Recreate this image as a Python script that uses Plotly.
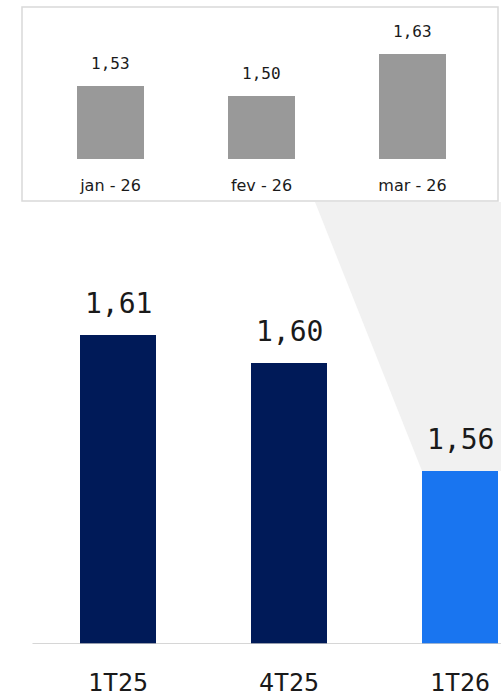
import plotly.graph_objects as go

# Quarterly values (main chart)
quarters = ["1T25", "4T25", "1T26"]
quarter_values = [1.61, 1.60, 1.56]
quarter_labels = ["1,61", "1,60", "1,56"]

# Monthly breakdown of the latest quarter (inset)
months = ["jan - 26", "fev - 26", "mar - 26"]
month_values = [1.53, 1.50, 1.63]
month_labels = ["1,53", "1,50", "1,63"]

W, H = 501, 700
NAVY = "#001a58"
BLUE = "#1975f0"
BAR_GREY = "#999999"
ZOOM_FILL = "#f1f1f1"
BORDER = "#d9d9d9"
AXIS_LINE = "#c8c8c8"
TEXT = "#1a1a1a"
NUM_FONT = "DejaVu Sans Mono"
WORD_FONT = "DejaVu Sans"


def py(px):
    """Pixel row -> paper fraction."""
    return 1 - px / H


# Main axes geometry
main_base, main_scale = 1.4963, 2714.0          # axis floor, px per unit
main_bottom_px, main_top_px = 644, 202
main_y_range = [main_base, main_base + (main_bottom_px - main_top_px) / main_scale]
main_step, main_first = 171.0, 118.0             # px between categories, px of first
main_x_range = [-main_first / main_step, (W - main_first) / main_step]

# Inset axes geometry
ins_base, ins_scale = 1.3066, 325.6
ins_bottom_px, ins_top_px = 159, 7
ins_y_range = [ins_base, ins_base + (ins_bottom_px - ins_top_px) / ins_scale]
ins_step, ins_first = 151.0, 110.5
ins_left_px, ins_right_px = 22, 498
ins_x_range = [-ins_first / ins_step, (W - ins_first) / ins_step]

fig = go.Figure()

fig.add_trace(go.Bar(
    x=quarters, y=quarter_values, width=0.444,
    marker=dict(color=[NAVY, NAVY, BLUE], line=dict(width=0)),
    xaxis="x", yaxis="y", hoverinfo="skip",
))
fig.add_trace(go.Bar(
    x=months, y=month_values, width=0.444,
    marker=dict(color=BAR_GREY, line=dict(width=0)),
    xaxis="x2", yaxis="y2", hoverinfo="skip",
))

annotations = []
for q, v, t in zip(quarters, quarter_values, quarter_labels):
    annotations.append(dict(
        x=q, y=v, xref="x", yref="y", text=t, showarrow=False,
        yanchor="bottom", yshift=13, font=dict(family=NUM_FONT, size=28, color=TEXT),
    ))
for m, v, t in zip(months, month_values, month_labels):
    annotations.append(dict(
        x=m, y=v, xref="x2", yref="y2", text=t, showarrow=False,
        yanchor="bottom", yshift=11, font=dict(family=NUM_FONT, size=16, color=TEXT),
    ))

bar_half = 0.222
shapes = [
    # inset frame
    dict(type="rect", xref="paper", yref="paper",
         x0=ins_left_px / W, x1=ins_right_px / W, y0=py(201), y1=py(ins_top_px),
         line=dict(color=BORDER, width=1.5), fillcolor="white", layer="below"),
    # zoom wedge from the inset down to the latest quarter bar
    dict(type="path", xref="x", yref="y", layer="below",
         path=(f"M {(315 - main_first) / main_step},{main_y_range[1]} "
               f"L {main_x_range[1]},{main_y_range[1]} "
               f"L {main_x_range[1]},{quarter_values[-1]} "
               f"L {len(quarters) - 1 - bar_half},{quarter_values[-1]} Z"),
         fillcolor=ZOOM_FILL, line=dict(width=0)),
    # baseline of the main chart
    dict(type="line", xref="x", yref="y", x0=-0.5, x1=main_x_range[1],
         y0=main_base, y1=main_base, line=dict(color=AXIS_LINE, width=1.5)),
]

fig.update_layout(
    width=W, height=H,
    margin=dict(l=0, r=0, t=0, b=0),
    paper_bgcolor="white", plot_bgcolor="rgba(0,0,0,0)",
    showlegend=False,
    bargap=0,
    xaxis=dict(domain=[0, 1], range=main_x_range, type="category",
               showgrid=False, zeroline=False, showline=False, ticks="",
               ticklabelstandoff=21,
               tickfont=dict(family=NUM_FONT, size=25, color=TEXT), fixedrange=True),
    yaxis=dict(domain=[py(main_bottom_px), py(main_top_px)], range=main_y_range,
               visible=False, fixedrange=True),
    xaxis2=dict(domain=[0, 1], range=ins_x_range, type="category", anchor="y2",
                showgrid=False, zeroline=False, showline=False, ticks="",
                ticklabelstandoff=15,
                tickfont=dict(family=WORD_FONT, size=16, color=TEXT), fixedrange=True),
    yaxis2=dict(domain=[py(ins_bottom_px), py(ins_top_px)], range=ins_y_range,
                anchor="x2", visible=False, fixedrange=True),
    annotations=annotations,
    shapes=shapes,
)

fig.write_html("out.html")
